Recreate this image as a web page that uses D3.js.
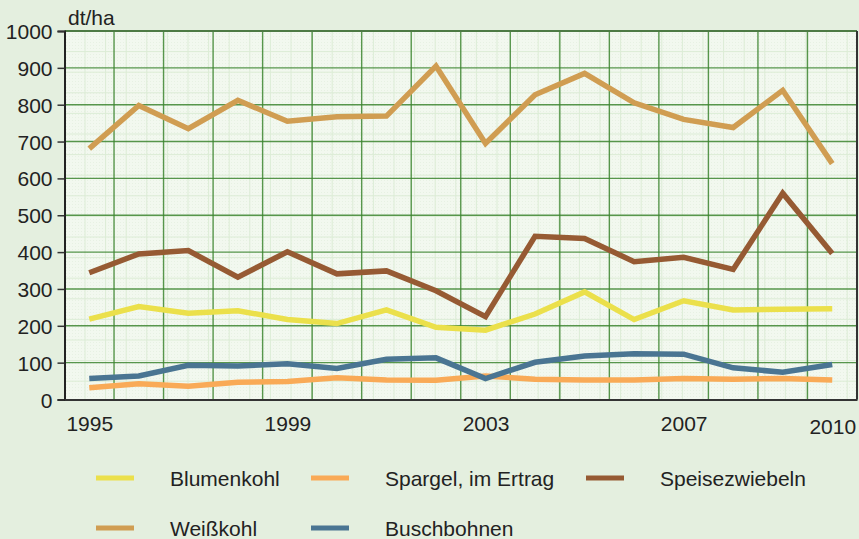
<!DOCTYPE html>
<html>
<head>
<meta charset="utf-8">
<script src="https://cdn.jsdelivr.net/npm/d3@7"></script>
<style>
  html, body { margin: 0; padding: 0; background: #e4efdf; }
  svg { display: block; }
  text { font-family: "Liberation Sans", Arial, sans-serif; fill: #222; }
</style>
</head>
<body>
<svg id="chart" width="859" height="539"></svg>
<script>
const years = [1995,1996,1997,1998,1999,2000,2001,2002,2003,2004,2005,2006,2007,2008,2009,2010];
const blumenkohl     = [218,252,234,241,217,206,243,196,188,232,292,217,268,243,245,246];
const spargel        = [32,43,36,47,49,59,53,52,64,55,53,53,57,55,57,53];
const speisezwiebeln = [344,395,404,332,401,341,349,295,225,443,437,374,386,353,560,396];
const weisskohl      = [681,798,735,812,755,767,769,905,695,827,885,805,760,738,839,640];
const buschbohnen    = [57,64,93,91,97,84,109,113,57,101,118,124,123,86,74,95];
const seriesNames  = ["Blumenkohl","Spargel, im Ertrag","Speisezwiebeln","Weißkohl","Buschbohnen"];
const seriesColors = ["#ebe04b","#f9aa57","#965a33","#d09d52","#4a7592"];
const seriesData   = [blumenkohl, spargel, speisezwiebeln, weisskohl, buschbohnen];
const xTickLabels = [1995,1999,2003,2007,2010];
const yTicks = [0,100,200,300,400,500,600,700,800,900,1000];
const unitLabel = "dt/ha";

const svg = d3.select("#chart");
const L = 64.5, R = 857, T = 31, B = 399.5;
const x = d3.scaleLinear().domain([1994.5, 2010.5]).range([L, R]);
const y = d3.scaleLinear().domain([0, 1000]).range([B, T]);

// background
svg.append("rect").attr("width", 859).attr("height", 539).attr("fill", "#e4efdf");

// plot area with faint texture
const defs = svg.append("defs");
const pat = defs.append("pattern").attr("id","tex").attr("patternUnits","userSpaceOnUse")
  .attr("width", 3).attr("height", 3);
pat.append("rect").attr("width",3).attr("height",3).attr("fill","#f2f8ef");
pat.append("rect").attr("width",1).attr("height",1).attr("fill","#e7f1e3");
svg.append("rect").attr("x", L).attr("y", T).attr("width", R - L).attr("height", B - T).attr("fill", "url(#tex)");

// minor grid
const gMinor = svg.append("g").attr("stroke", "#dcecd6").attr("stroke-width", 1);
d3.range(L + 20.5, R, 20.6).forEach(px => gMinor.append("line").attr("x1", px).attr("x2", px).attr("y1", T).attr("y2", B));
d3.range(T + 20.6, B, 20.6).forEach(py => gMinor.append("line").attr("y1", py).attr("y2", py).attr("x1", L).attr("x2", R));

// major grid
const gGrid = svg.append("g").attr("stroke", "#3c852f").attr("stroke-width", 1.4).attr("stroke-opacity", 0.85);
d3.range(1995.5, 2010, 1).forEach(v => gGrid.append("line")
  .attr("x1", x(v)).attr("x2", x(v)).attr("y1", T).attr("y2", B));
yTicks.filter(v => v > 0 && v < 1000).forEach(v => gGrid.append("line")
  .attr("x1", L).attr("x2", R).attr("y1", y(v)).attr("y2", y(v)));

// frame
svg.append("line").attr("x1", L).attr("x2", R).attr("y1", T).attr("y2", T).attr("stroke", "#4d7a44").attr("stroke-width", 2);
svg.append("line").attr("x1", R).attr("x2", R).attr("y1", T).attr("y2", B).attr("stroke", "#333").attr("stroke-width", 2);

// lines
const line = d3.line().x((d, i) => x(years[i])).y(d => y(d));
seriesData.forEach((s, k) => {
  svg.append("path").datum(s).attr("d", line).attr("fill", "none")
    .attr("stroke", seriesColors[k]).attr("stroke-width", 5.5)
    .attr("stroke-linejoin", "miter").attr("stroke-linecap", "butt");
});

// y axis
const yAxis = d3.axisLeft(y).tickValues(yTicks).tickSize(7).tickPadding(5).tickFormat(d3.format("d"));
const gy = svg.append("g").attr("transform", `translate(${L},0)`).call(yAxis);
gy.select(".domain").attr("stroke", "#222").attr("stroke-width", 2);
gy.selectAll(".tick line").attr("stroke", "#333").attr("stroke-width", 1.5);
gy.selectAll(".tick text").attr("font-size", 21).attr("fill", "#222").attr("dy", "0.36em");

// x axis
const xAxis = d3.axisBottom(x).tickValues(xTickLabels).tickSize(0).tickPadding(17).tickFormat(d3.format("d"));
const gx = svg.append("g").attr("transform", `translate(0,${B})`).call(xAxis);
gx.select(".domain").attr("stroke", "#333").attr("stroke-width", 2);
gx.selectAll(".tick text").attr("font-size", 21).attr("fill", "#222")
  .attr("dy", d => d === 2010 ? "0.85em" : "0.71em");

// unit label
svg.append("text").attr("x", 68).attr("y", 25).attr("font-size", 21).text(unitLabel);

// legend
const legendPos = [[96,478],[311,478],[586,478],[96,528],[311,528]];
seriesNames.forEach((n, k) => {
  const [lx, ly] = legendPos[k];
  svg.append("line").attr("x1", lx).attr("x2", lx + 38).attr("y1", ly).attr("y2", ly)
    .attr("stroke", seriesColors[k]).attr("stroke-width", 5);
  svg.append("text").attr("x", lx + 74).attr("y", ly).attr("dy", "0.36em")
    .attr("font-size", 21).text(n);
});
</script>
</body>
</html>
